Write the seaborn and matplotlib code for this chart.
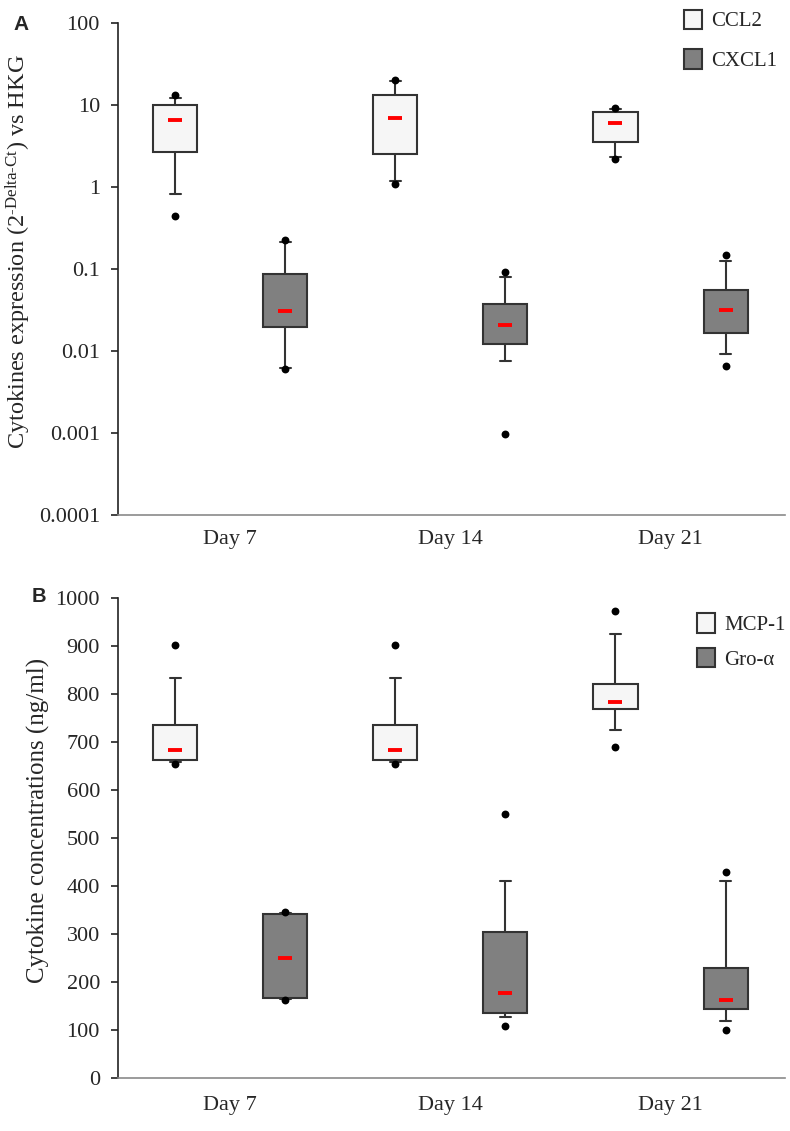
import numpy as np
import pandas as pd
import matplotlib
matplotlib.use('Agg')
import matplotlib.pyplot as plt
import seaborn as sns

days = ['Day 7', 'Day 14', 'Day 21']

# Panel A - relative expression (2^-dCt vs HKG)
ccl2_whisk_lo = [0.83, 1.19, 2.3]
ccl2_q1 = [2.67, 2.5, 3.57]
ccl2_mean = [6.56, 6.9, 6.03]
ccl2_q3 = [10.0, 13.3, 8.28]
ccl2_whisk_hi = [12.2, 19.5, 9.0]
ccl2_min = [0.447, 1.09, 2.2]
ccl2_max = [13.3, 20.3, 9.3]

cxcl1_whisk_lo = [0.0062, 0.0076, 0.0093]
cxcl1_q1 = [0.0195, 0.0122, 0.0167]
cxcl1_mean = [0.0305, 0.0207, 0.0313]
cxcl1_q3 = [0.0869, 0.037, 0.0555]
cxcl1_whisk_hi = [0.211, 0.079, 0.124]
cxcl1_min = [0.0060, 0.00096, 0.0066]
cxcl1_max = [0.225, 0.0927, 0.149]

# Panel B - protein concentrations (ng/ml)
mcp1_whisk_lo = [658, 658, 725]
mcp1_q1 = [663, 663, 768]
mcp1_mean = [684, 684, 783]
mcp1_q3 = [735, 735, 820]
mcp1_whisk_hi = [833, 833, 924]
mcp1_min = [655, 655, 690]
mcp1_max = [903, 903, 972]

gro_whisk_lo = [165, 127, 118]
gro_q1 = [167.5, 135, 144.6]
gro_mean = [249, 177, 163]
gro_q3 = [341, 303.5, 228.5]
gro_whisk_hi = [343, 411, 410]
gro_min = [162, 108, 101]
gro_max = [346, 549, 429]

FILL = ['#f6f6f6', '#808080']
EDGE = '#333333'


def to_long(name, lo, q1, mid, q3, hi):
    # five values per box: with whis=(0, 100) they give exactly the drawn box
    rows = []
    for i, d in enumerate(days):
        for v in (lo[i], q1[i], mid[i], q3[i], hi[i]):
            rows.append({'day': d, 'gene': name, 'value': v})
    return rows


def draw_panel(ax, df, genes, means, mins, maxs, log):
    sns.boxplot(data=df, x='day', y='value', hue='gene', order=days, hue_order=genes,
                palette=FILL, linecolor=EDGE, linewidth=1.5, width=1.0, gap=0.6,
                whis=(0, 100), showfliers=False, log_scale=log,
                medianprops={'visible': False}, ax=ax)
    # shorter caps, like the original
    for ln in ax.lines:
        x = np.asarray(ln.get_xdata(), dtype=float)
        y = np.asarray(ln.get_ydata(), dtype=float)
        if len(x) == 2 and y[0] == y[1] and x[0] != x[1]:
            c = x.mean()
            ln.set_xdata([c - (c - x[0]) * 0.5, c + (x[1] - c) * 0.5])
    base = np.arange(len(days))
    for off, m, lo, hi in zip([-0.25, 0.25], means, mins, maxs):
        sns.scatterplot(x=base + off, y=lo, color='black', s=32, linewidth=0, zorder=6, ax=ax)
        sns.scatterplot(x=base + off, y=hi, color='black', s=32, linewidth=0, zorder=6, ax=ax)
        sns.scatterplot(x=base + off, y=m, marker='_', s=95, color='red', linewidth=2.8,
                        zorder=7, ax=ax)
    ax.set_xlim(-0.51, 2.52)
    ax.set_xlabel('')
    sns.despine(ax=ax)
    ax.spines['left'].set_color('#222222')
    ax.spines['left'].set_linewidth(1.2)
    ax.spines['bottom'].set_color('#8a8a8a')
    ax.spines['bottom'].set_linewidth(1.2)
    ax.tick_params(axis='x', length=0, labelsize=16)
    ax.tick_params(axis='y', length=5, width=1.2, color='#222222', labelsize=16, pad=8)
    ax.minorticks_off()


sns.set_theme(style='ticks')
plt.rcParams['font.family'] = ['Liberation Serif', 'DejaVu Serif']
plt.rcParams['mathtext.fontset'] = 'custom'
plt.rcParams['mathtext.rm'] = 'Liberation Serif'
plt.rcParams['mathtext.it'] = 'Liberation Serif:italic'

fig = plt.figure(figsize=(7.9, 11.31), dpi=100)
ax1 = fig.add_axes([118 / 790, 1 - 515 / 1131, 667 / 790, 492 / 1131])
ax2 = fig.add_axes([118 / 790, 1 - 1078 / 1131, 667 / 790, 480 / 1131])

df_a = pd.DataFrame(to_long('CCL2', ccl2_whisk_lo, ccl2_q1, ccl2_mean, ccl2_q3, ccl2_whisk_hi)
                    + to_long('CXCL1', cxcl1_whisk_lo, cxcl1_q1, cxcl1_mean, cxcl1_q3, cxcl1_whisk_hi))
df_b = pd.DataFrame(to_long('MCP-1', mcp1_whisk_lo, mcp1_q1, mcp1_mean, mcp1_q3, mcp1_whisk_hi)
                    + to_long('Gro-α', gro_whisk_lo, gro_q1, gro_mean, gro_q3, gro_whisk_hi))

draw_panel(ax1, df_a, ['CCL2', 'CXCL1'], [ccl2_mean, cxcl1_mean],
           [ccl2_min, cxcl1_min], [ccl2_max, cxcl1_max], True)
draw_panel(ax2, df_b, ['MCP-1', 'Gro-α'], [mcp1_mean, gro_mean],
           [mcp1_min, gro_min], [mcp1_max, gro_max], False)

a_ticks = [0.0001, 0.001, 0.01, 0.1, 1, 10, 100]
ax1.set_ylim(0.0001, 100)
ax1.set_yticks(a_ticks)
ax1.set_yticklabels(['0.0001', '0.001', '0.01', '0.1', '1', '10', '100'])
ax1.tick_params(axis='x', pad=11)
ax1.set_ylabel(r'Cytokines expression (2$^{\text{-Delta-Ct}}$) vs HKG', fontsize=17.5)
ax1.yaxis.set_label_coords(-0.127, 0.535)

ax2.set_ylim(0, 1000)
ax2.set_yticks(range(0, 1001, 100))
ax2.tick_params(axis='x', pad=13)
ax2.set_ylabel('Cytokine concentrations (ng/ml)', fontsize=18)
ax2.yaxis.set_label_coords(-0.102, 0.537)

for ax, pos, sp in [(ax1, (0.8486, 1.027), 0.85), (ax2, (0.868, 0.968), 0.62)]:
    sns.move_legend(ax, 'upper left', bbox_to_anchor=pos, frameon=False, title=None,
                    fontsize=15, handlelength=0.85, handleheight=1.05,
                    handletextpad=0.45, labelspacing=sp, borderpad=0, borderaxespad=0)

fig.text(21 / 790, 1 - 24 / 1131, 'A', family='Liberation Sans', weight='bold',
         fontsize=15, ha='center', va='center')
fig.text(39 / 790, 1 - 597 / 1131, 'B', family='Liberation Sans', weight='bold',
         fontsize=14.5, ha='center', va='center')

fig.savefig('out.png', dpi=100)
